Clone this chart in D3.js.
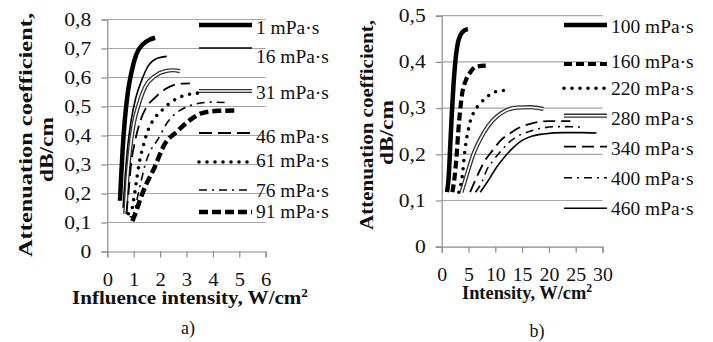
<!DOCTYPE html>
<html><head><meta charset="utf-8">
<script src="https://cdn.jsdelivr.net/npm/d3@7"></script>
<style>
html,body{margin:0;padding:0;background:#fff;}
svg{display:block;}
</style></head>
<body><svg id="c" width="713" height="342" font-family="Liberation Serif"></svg>
<script>
// ---------- DATA ----------
// Panel a) Influence intensity (W/cm²) vs attenuation coefficient (dB/cm)
const aLabels = ["1 mPa·s","16 mPa·s","31 mPa·s","46 mPa·s","61 mPa·s","76 mPa·s","91 mPa·s"];
const aXTicks = [0,1,2,3,4,5,6];
const aYTicks = [0,0.1,0.2,0.3,0.4,0.5,0.6,0.7,0.8];
const a1  = [[0.48,0.175],[0.52,0.25],[0.58,0.35],[0.66,0.45],[0.78,0.55],[0.92,0.62],[1.1,0.68],[1.35,0.715],[1.6,0.73],[1.81,0.737]];
const a16 = [[0.6,0.15],[0.67,0.25],[0.76,0.35],[0.9,0.45],[1.08,0.53],[1.3,0.59],[1.55,0.64],[1.85,0.665],[2.25,0.673]];
const a31 = [[0.68,0.13],[0.76,0.25],[0.86,0.35],[1.0,0.44],[1.2,0.51],[1.45,0.57],[1.8,0.605],[2.2,0.622],[2.5,0.625],[2.75,0.622]];
const a46 = [[0.72,0.13],[0.8,0.2],[0.9,0.3],[1.05,0.38],[1.25,0.45],[1.5,0.5],[1.8,0.53],[2.2,0.56],[2.7,0.578],[3.13,0.58]];
const a61 = [[0.8,0.13],[0.9,0.135],[1.0,0.18],[1.1,0.24],[1.2,0.3],[1.35,0.36],[1.55,0.42],[1.8,0.46],[2.1,0.49],[2.5,0.52],[3.0,0.54],[3.7,0.548]];
const a76 = [[0.85,0.12],[0.95,0.12],[1.05,0.145],[1.15,0.19],[1.3,0.25],[1.45,0.305],[1.65,0.35],[1.87,0.38],[2.3,0.448],[2.9,0.494],[3.9,0.515],[4.6,0.513]];
const a91 = [[0.95,0.105],[1.1,0.14],[1.24,0.178],[1.49,0.235],[1.74,0.28],[2.19,0.373],[2.63,0.413],[3.13,0.453],[3.58,0.477],[4.2,0.485],[4.96,0.486]];

// Panel b) Intensity (W/cm²) vs attenuation coefficient (dB/cm)
const bLabels = ["100 mPa·s","160 mPa·s","220 mPa·s","280 mPa·s","340 mPa·s","400 mPa·s","460 mPa·s"];
const bXTicks = [0,5,10,15,20,25,30];
const bYTicks = [0,0.1,0.2,0.3,0.4,0.5];
const b100 = [[1.0,0.118],[1.3,0.15],[1.6,0.22],[1.9,0.29],[2.2,0.35],[2.5,0.395],[3.0,0.44],[3.5,0.458],[4.2,0.468],[4.9,0.471]];
const b160 = [[2.0,0.118],[2.4,0.15],[2.8,0.2],[3.1,0.25],[3.4,0.29],[3.8,0.33],[4.5,0.36],[5.3,0.377],[6.5,0.39],[8.4,0.392]];
const b220 = [[3.2,0.118],[3.8,0.15],[4.35,0.21],[5.3,0.27],[6.2,0.295],[7.2,0.31],[8.5,0.325],[9.6,0.333],[11,0.338],[12.4,0.338]];
const b280 = [[3.7,0.118],[4.8,0.16],[5.9,0.2],[7.2,0.233],[8.7,0.262],[10.3,0.282],[12,0.295],[14,0.301],[16.5,0.302],[19,0.298]];
const b340 = [[5.3,0.118],[6.5,0.15],[8,0.185],[9.6,0.21],[11,0.23],[12.7,0.245],[14.5,0.258],[16.5,0.266],[20,0.272],[24,0.272]];
const b400 = [[6.3,0.118],[7.5,0.14],[8.4,0.166],[9.5,0.185],[10.9,0.205],[12.5,0.225],[14.6,0.242],[16.5,0.25],[18.3,0.256],[22,0.26],[26,0.259]];
const b460 = [[7.2,0.118],[8.5,0.14],[10.3,0.173],[12,0.198],[13.4,0.215],[15,0.23],[16.5,0.238],[19,0.244],[22.7,0.247],[26,0.247],[28.9,0.246]];

// ---------- STYLES ----------
const STY = {
  thick:   {w:4.5, dash:null},
  thin:    {w:1.6, dash:null},
  dbl:     {w:4.2, dash:null, double:true},
  ldash:   {w:1.8, dash:"13,6"},
  dots:    {w:3.6, dash:"0,8", cap:"round"},
  dashdot: {w:1.6, dash:"8,5,2,5"},
  tdash:   {w:4.5, dash:"9,4"},
  bdash:   {w:4.2, dash:"8,4"},
  bldash:  {w:1.8, dash:"12,6"}
};
const aStyles = ["thick","thin","dbl","ldash","dots","dashdot","tdash"];
const bStyles = ["thick","bdash","dots","dbl","bldash","dashdot","thin"];

const svg = d3.select("#c");
const FONT = 18;
const FF = "Liberation Serif";

function stretch(sel, f){
  sel.each(function(){
    const L = this.getComputedTextLength();
    d3.select(this).attr("textLength", (L*f).toFixed(1)).attr("lengthAdjust","spacingAndGlyphs");
  });
}
function fitTo(sel, w){
  sel.attr("textLength", w).attr("lengthAdjust","spacingAndGlyphs");
}

function drawLine(g, pts, st, gen){
  const s = STY[st];
  if (s.double){
    g.append("path").attr("d", gen(pts)).attr("fill","none").attr("stroke","#333").attr("stroke-width",s.w);
    g.append("path").attr("d", gen(pts)).attr("fill","none").attr("stroke","#fff").attr("stroke-width",s.w-2.6);
  } else {
    const p = g.append("path").attr("d", gen(pts)).attr("fill","none").attr("stroke","#000")
      .attr("stroke-width",s.w).attr("stroke-linecap", s.cap||"butt");
    if (s.dash) p.attr("stroke-dasharray",s.dash);
  }
}

function panel(cfg){
  const g = svg.append("g");
  if (cfg.clipX !== undefined){
    const id = "clip"+cfg.name;
    svg.append("defs").append("clipPath").attr("id",id).append("rect").attr("x",cfg.clipX).attr("y",0).attr("width",713-cfg.clipX).attr("height",342);
    g.attr("clip-path","url(#"+id+")");
  }
  const x = d3.scaleLinear().domain(cfg.xDom).range(cfg.xRange);
  const y = d3.scaleLinear().domain(cfg.yDom).range(cfg.yRange);
  // gridlines
  g.append("g").selectAll("line").data(cfg.yTicks.filter(v=>v>0)).join("line")
    .attr("x1",x(cfg.xDom[0])).attr("x2",x(cfg.xDom[1]))
    .attr("y1",d=>y(d)).attr("y2",d=>y(d))
    .attr("stroke","#a6a6a6").attr("stroke-width",1.2);
  // axes
  const fmt = d=>String(d).replace(".",",");
  const ya = g.append("g").attr("transform",`translate(${x(cfg.xDom[0])},0)`)
    .call(d3.axisLeft(y).tickValues(cfg.yTicks).tickSize(6).tickPadding(10).tickFormat(fmt));
  const xa = g.append("g").attr("transform",`translate(0,${y(0)})`)
    .call(d3.axisBottom(x).tickValues(cfg.xTicks).tickSize(6).tickPadding(16).tickFormat(d=>d));
  [ya,xa].forEach(ax=>{
    ax.attr("font-family",FF).attr("font-size",FONT);
    ax.select(".domain").attr("stroke","#8c8c8c").attr("stroke-width",1.2);
    ax.selectAll(".tick line").attr("stroke","#8c8c8c").attr("stroke-width",1.2);
    ax.selectAll("text").attr("font-size",FONT).attr("font-family",FF).attr("fill","#111");
  });
  stretch(ya.selectAll("text"), cfg.tickStretch);
  stretch(xa.selectAll("text"), cfg.xTickStretch);
  // curves
  const gen = d3.line().x(d=>x(d[0])).y(d=>y(d[1])).curve(d3.curveMonotoneX);
  const cg = g.append("g");
  cfg.series.forEach((s,i)=>drawLine(cg, s, cfg.styles[i], gen));
  // legend
  const lg = g.append("g");
  cfg.labels.forEach((lab,i)=>{
    const ly = cfg.legLineY[i];
    drawLine(lg, [[cfg.legX0,ly],[cfg.legX1,ly]], cfg.styles[i], d3.line());
    const t = lg.append("text").attr("x",cfg.legTextX).attr("y",cfg.legTextY[i]+6)
      .attr("font-size",FONT).attr("font-family",FF).attr("fill","#111").text(lab);
    stretch(t, cfg.legStretch);
  });
  // titles
  const yt = cfg.yTitle;
  const t1 = g.append("text").attr("transform",`translate(${yt.x1},${yt.c1}) rotate(-90)`)
    .attr("text-anchor","middle").attr("font-weight","bold").attr("font-size",19).attr("font-family",FF).attr("fill","#111")
    .text("Attenuation coefficient,");
  fitTo(t1, yt.w1);
  const t2 = g.append("text").attr("transform",`translate(${yt.x2},${yt.c2}) rotate(-90)`)
    .attr("text-anchor","middle").attr("font-weight","bold").attr("font-size",19).attr("font-family",FF).attr("fill","#111")
    .text("dB/cm");
  fitTo(t2, yt.w2);
  const xt = g.append("text").attr("x",cfg.xTitle.cx).attr("y",cfg.xTitle.y)
    .attr("text-anchor","middle").attr("font-weight","bold").attr("font-size",19).attr("font-family",FF).attr("fill","#111");
  xt.append("tspan").text(cfg.xTitle.text);
  xt.append("tspan").attr("font-size",12).attr("dy",-7).text("2");
  fitTo(xt, cfg.xTitle.w);
  g.append("text").attr("x",cfg.sub.x).attr("y",cfg.sub.y).attr("text-anchor","middle")
    .attr("font-size",FONT).attr("font-family",FF).attr("fill","#111").text(cfg.sub.text);
}

panel({
  name:"a",
  xDom:[0,6], xRange:[107.3,265.7], yDom:[0,0.8], yRange:[251.5,19.5],
  xTicks:aXTicks, yTicks:aYTicks, tickStretch:1.2, xTickStretch:1.15,
  series:[a1,a16,a31,a46,a61,a76,a91], styles:aStyles, labels:aLabels,
  legX0:199, legX1:252, legTextX:256,
  legLineY:[25,48,91,133,162,190,212],
  legTextY:[27.5,56.5,92.5,137,161,191,212],
  legStretch:1.08,
  yTitle:{x1:32,c1:135,w1:244,x2:53,c2:149.5,w2:65},
  xTitle:{cx:190,y:304,w:236,text:"Influence intensity,  W/cm"},
  sub:{x:188,y:334,text:"a)"}
});
panel({
  name:"b", clipX:359,
  xDom:[0,30], xRange:[441.7,602.5], yDom:[0,0.5], yRange:[246.7,15.7],
  xTicks:bXTicks, yTicks:bYTicks, tickStretch:1.2, xTickStretch:1.1,
  series:[b100,b160,b220,b280,b340,b400,b460], styles:bStyles, labels:bLabels,
  legX0:564, legX1:607, legTextX:611,
  legLineY:[25,64,88.3,115.7,146.7,177.7,208.3],
  legTextY:[26.5,61.5,88.5,118.5,148.5,178.5,208.5],
  legStretch:1.08,
  yTitle:{x1:373,c1:125,w1:210,x2:393,c2:132.5,w2:65},
  xTitle:{cx:527,y:299,w:130,text:"Intensity, W/cm"},
  sub:{x:537,y:337,text:"b)"}
});
</script></body></html>
